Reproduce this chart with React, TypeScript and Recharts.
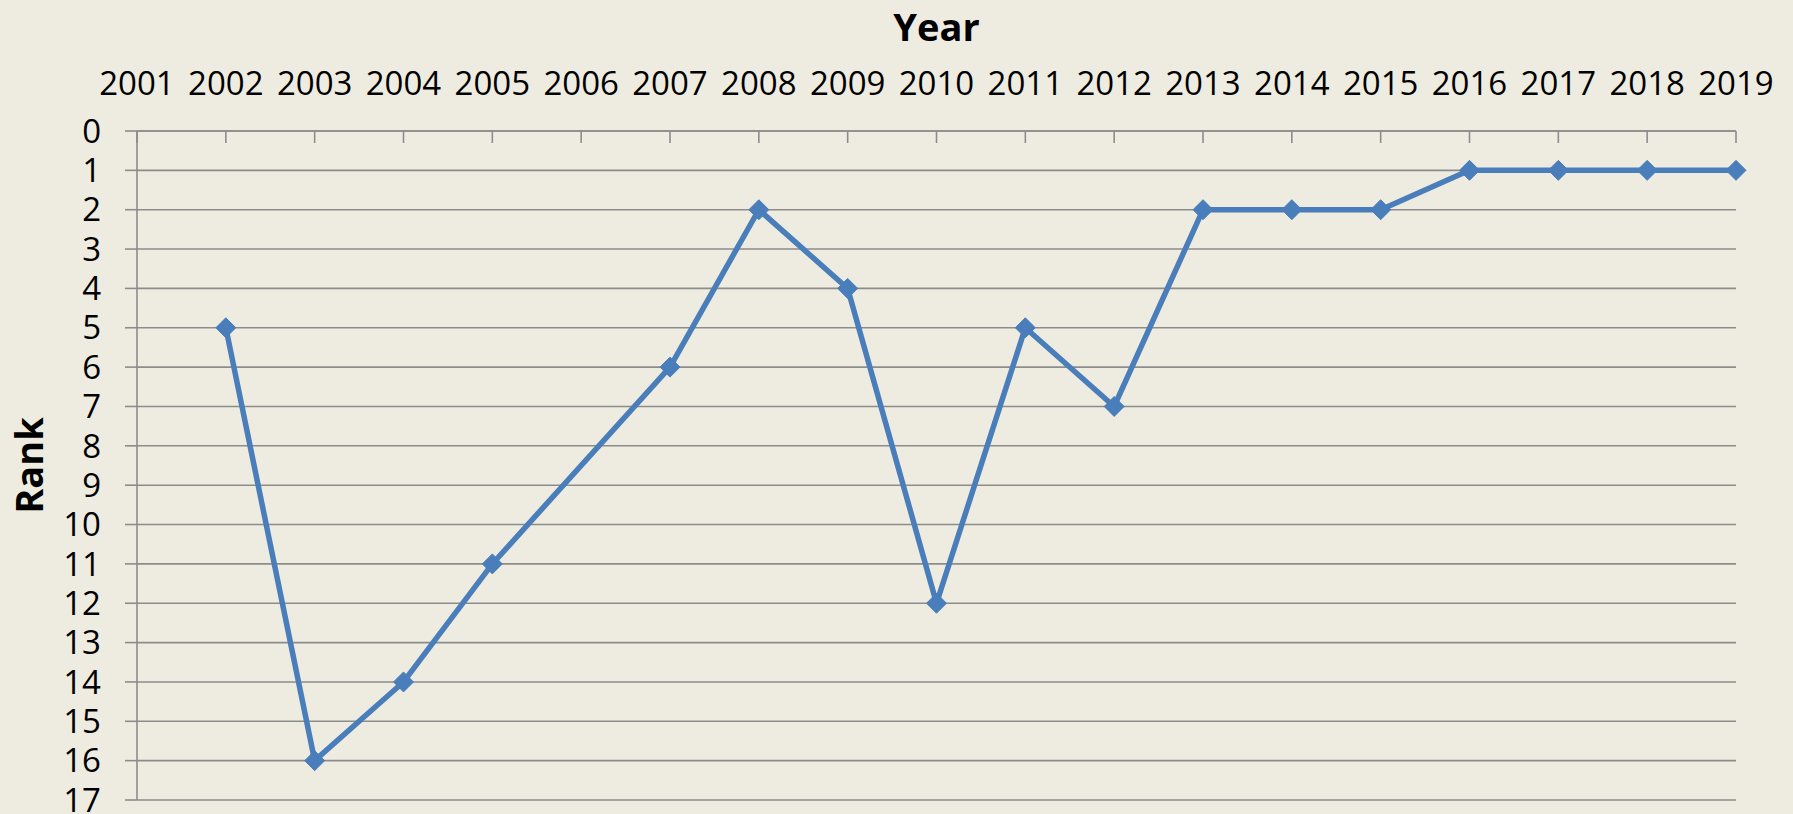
import React from 'react';
import { LineChart, Line, XAxis, YAxis, CartesianGrid, Label } from 'recharts';

const years = [
  '2001', '2002', '2003', '2004', '2005', '2006', '2007', '2008', '2009', '2010',
  '2011', '2012', '2013', '2014', '2015', '2016', '2017', '2018', '2019',
];
const ranks: (number | null)[] = [
  null, 5, 16, 14, 11, null, 6, 2, 4, 12, 5, 7, 2, 2, 2, 1, 1, 1, 1,
];
const rankTicks = [0, 1, 2, 3, 4, 5, 6, 7, 8, 9, 10, 11, 12, 13, 14, 15, 16, 17];

const data = years.map((year, i) => ({ year, rank: ranks[i] }));

const BLUE = '#4A7EBB';
const GRID = '#8C8C8C';
const FONT = '"Open Sans", "Liberation Sans", sans-serif';

const Diamond = (props: any) => {
  const { cx, cy, index } = props;
  if (cx == null || cy == null || props.value == null) return <g key={`d-${index}`} />;
  const r = 10;
  return (
    <path
      key={`d-${index}`}
      d={`M${cx},${cy - r} L${cx + r},${cy} L${cx},${cy + r} L${cx - r},${cy} Z`}
      fill={BLUE}
      stroke={BLUE}
      strokeWidth={1}
    />
  );
};

const RankLabel = (props: any) => {
  const { viewBox } = props;
  const cy = viewBox.y + viewBox.height / 2;
  return (
    <text
      x={28}
      y={cy}
      transform={`rotate(-90, 28, ${cy})`}
      textAnchor="middle"
      dominantBaseline="central"
      fontFamily={FONT}
      fontWeight={700}
      fontSize={38}
      fill="#000"
    >
      Rank
    </text>
  );
};

export default function App() {
  return (
    <div
      style={{
        position: 'absolute',
        left: 0,
        top: 0,
        width: 1793,
        height: 814,
        background: '#EEECE1',
        fontFamily: FONT,
      }}
    >
      <LineChart
        width={1793}
        height={814}
        data={data}
        margin={{ top: 71, right: 57, bottom: 14, left: 77 }}
      >
        <CartesianGrid vertical={false} stroke={GRID} strokeWidth={1.6} />
        <XAxis
          dataKey="year"
          orientation="top"
          height={60}
          interval={0}
          axisLine={{ stroke: GRID, strokeWidth: 1.6 }}
          tickLine={{ stroke: GRID, strokeWidth: 1.6 }}
          tickSize={-12}
          tickMargin={48}
          tick={{ fill: '#000', fontSize: 33, fontFamily: FONT }}
        >
          <Label
            value="Year"
            position="top"
            offset={30}
            style={{ fontFamily: FONT, fontWeight: 700, fontSize: 38, fill: '#000' }}
          />
        </XAxis>
        <YAxis
          reversed
          width={60}
          domain={[0, 17]}
          ticks={rankTicks}
          interval={0}
          allowDecimals={false}
          axisLine={{ stroke: GRID, strokeWidth: 1.6 }}
          tickLine={{ stroke: GRID, strokeWidth: 1.6 }}
          tickSize={12}
          tickMargin={24}
          tick={{ fill: '#000', fontSize: 33, fontFamily: FONT }}
        >
          <Label content={RankLabel} />
        </YAxis>
        <Line
          type="linear"
          dataKey="rank"
          stroke={BLUE}
          strokeWidth={5.5}
          connectNulls
          dot={Diamond}
          activeDot={false}
          isAnimationActive={false}
        />
      </LineChart>
    </div>
  );
}
